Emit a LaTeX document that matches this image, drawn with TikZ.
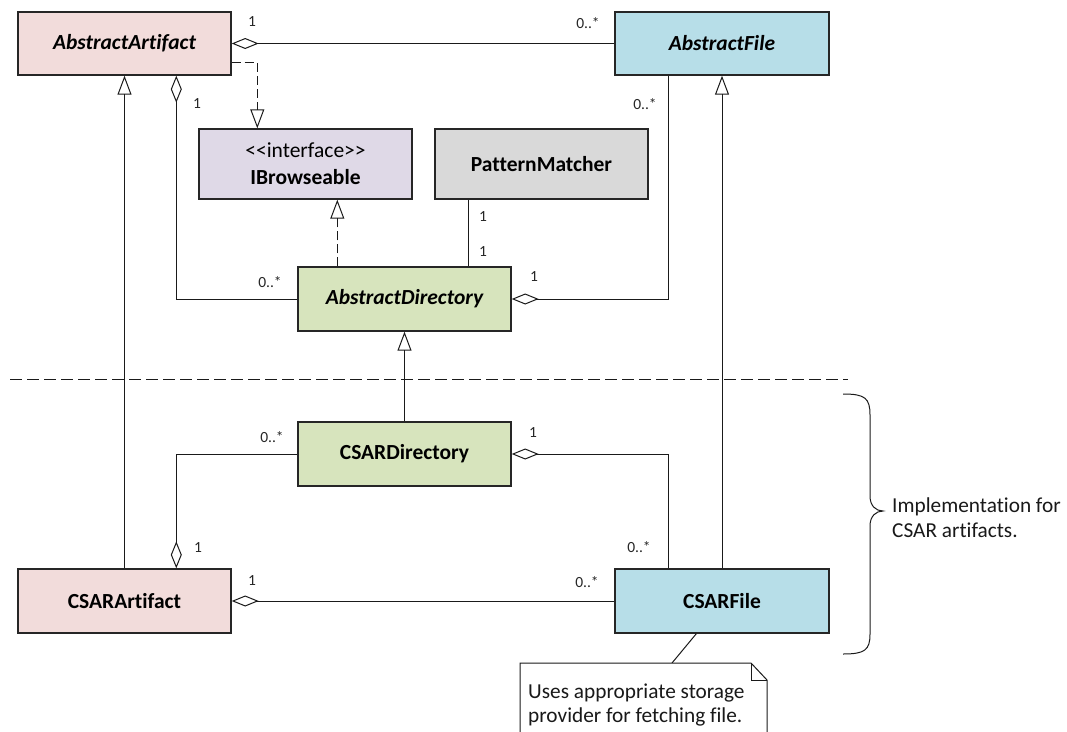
\documentclass[tikz,border=0pt]{standalone}
\usepackage{fontspec}
\setmainfont{Carlito}[Ligatures={NoCommon,NoContextual}]
\usetikzlibrary{arrows.meta,calc}

\definecolor{pinkfill}{HTML}{F2DCDB}
\definecolor{bluefill}{HTML}{B7DEE8}
\definecolor{lilacfill}{HTML}{DFD9E7}
\definecolor{greyfill}{HTML}{D9D9D9}
\definecolor{greenfill}{HTML}{D7E4BD}
\definecolor{edgecol}{HTML}{262626}
\definecolor{linecol}{HTML}{1A1A1A}

\tikzset{
  classbox/.style={draw=edgecol, line width=1.4pt, inner sep=0pt, align=center,
    minimum width=213pt, minimum height=64pt,
    font=\fontsize{21.5}{27}\selectfont\bfseries},
  conn/.style={draw=linecol, line width=1pt},
  aggr/.style={conn, {Diamond[open,length=27pt,width=11pt,line width=1pt]}-},
  gen/.style={conn, -{Triangle[open,length=19pt,width=14pt,line width=1pt]}},
  realize/.style={gen, dash pattern=on 9pt off 4pt},
  mult/.style={font=\fontsize{15.5}{17}\selectfont, inner sep=0pt, text=black!85},
  plaintext/.style={font=\fontsize{21.3}{24}\selectfont, inner sep=0pt, align=left, text=black!90},
}

\begin{document}
\begin{tikzpicture}[x=1pt,y=-1pt]
\useasboundingbox (0,0) rectangle (1067,731);
\clip (0,0) rectangle (1067,731);

% classes
\node[classbox, fill=pinkfill, minimum height=63pt] (aa) at (124.5,43.5) {\itshape AbstractArtifact};
\node[classbox, fill=bluefill, minimum height=63pt, minimum width=214pt] (af) at (722,43.5) {\itshape AbstractFile};
\node[classbox, fill=lilacfill, minimum height=70pt] (ib) at (305.5,164) {{\mdseries <\kern0pt<interface>\kern0pt>}\\IBrowseable};
\node[classbox, fill=greyfill, minimum height=70pt] (pm) at (541.5,164) {PatternMatcher};
\node[classbox, fill=greenfill] (ad) at (404.5,299) {\itshape AbstractDirectory};
\node[classbox, fill=greenfill] (cd) at (404.5,454) {CSARDirectory};
\node[classbox, fill=pinkfill] (ca) at (124.5,601) {CSARArtifact};
\node[classbox, fill=bluefill, minimum width=214pt] (cf) at (722,601) {CSARFile};

% layer separator
\draw[linecol, line width=1pt, dash pattern=on 12pt off 5pt] (10,379) -- (848,379);

% abstract layer relations
\draw[aggr] (aa.east) -- (af.west);
\draw[realize] ([yshift=13pt]aa.south east) -| ([xshift=59pt]ib.north west);
\draw[aggr] ([xshift=159pt]aa.south west) |- (ad.west);
\draw[realize] ([xshift=40pt]ad.north west) -- ([xshift=139pt]ib.south west);
\draw[conn] ([xshift=171pt]ad.north west) -- ([xshift=34pt]pm.south west);
\draw[aggr] (ad.east) -| ([xshift=54pt]af.south west);

% implementation layer relations
\draw[gen] (ca.north) -- (aa.south);
\draw[gen] (cf.north) -- (af.south);
\draw[gen] (cd.north) -- (ad.south);
\draw[aggr] ([xshift=159pt]ca.north west) |- (cd.west);
\draw[aggr] (cd.east) -| ([xshift=54pt]cf.north west);
\draw[aggr] (ca.east) -- (cf.west);

% multiplicities
\node[mult] (m1) at (252,22) {1};
\node[mult] (m2) at (588,23) {0..*};
\node[mult] (m3) at (197,104) {1};
\node[mult] (m4) at (645,104) {0..*};
\node[mult] (m5) at (483,217) {1};
\node[mult] (m6) at (483,252) {1};
\node[mult] (m7) at (270,282) {0..*};
\node[mult] (m8) at (534,277) {1};
\node[mult] (m9) at (272,437) {0..*};
\node[mult] (m10) at (533,433) {1};
\node[mult] (m11) at (198,548) {1};
\node[mult] (m12) at (252,581) {1};
\node[mult] (m13) at (587,582) {0..*};
\node[mult] (m14) at (639,547) {0..*};

% note attached to CSARFile
\coordinate (notetop) at (672,663);
\draw[conn] ([xshift=82pt]cf.south west) -- (notetop);
\draw[conn, fill=white] (520,663) -- (751,663) -- (767,680) -- (767,745) -- (520,745) -- cycle;
\draw[conn] (751,663) -- (751,680) -- (767,680);
\node[plaintext, anchor=base west] (note) at (528,722) {Uses appropriate storage\\provider for fetching file.};

% brace around the implementation layer
\draw[linecol, line width=1pt] (843,394) .. controls (865,394) and (870,398) .. (870,415)
  -- (870,496) .. controls (870,506) and (876,511) .. (883,511)
  .. controls (876,511) and (870,516) .. (870,526)
  -- (870,634) .. controls (870,650) and (865,654) .. (843,654);
\node[plaintext, anchor=base west, font=\fontsize{21.3}{25}\selectfont] (impl) at (892,537) {Implementation for\\CSAR artifacts.};
\end{tikzpicture}
\end{document}
